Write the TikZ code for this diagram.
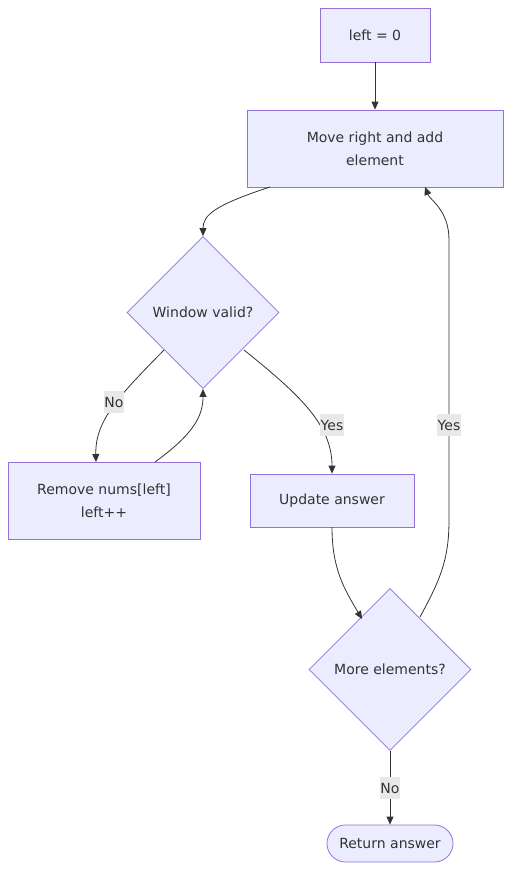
\documentclass[tikz,border=0pt]{standalone}
\usepackage{fontspec}
\setmainfont{DejaVu Sans}
\usetikzlibrary{shapes.geometric,arrows.meta}
\definecolor{nfill}{HTML}{ECECFF}
\definecolor{nline}{HTML}{9370DB}
\definecolor{eline}{HTML}{333333}
\definecolor{lbg}{HTML}{E8E8E8}
\tikzset{
  box/.style={draw=nline,fill=nfill,line width=0.8pt,text=eline,font=\fontsize{14}{23}\selectfont,align=center,inner sep=0pt},
  dia/.style={diamond,draw=nline,fill=nfill,line width=0.8pt,text=eline,font=\fontsize{14}{23}\selectfont,inner sep=0pt,aspect=1},
  flow/.style={draw=eline,line width=0.8pt,-{Triangle[length=8pt,width=7pt]}},
  lbl/.style={fill=lbg,text=eline,font=\fontsize{14}{16}\selectfont,inner xsep=0.5pt,inner ysep=0pt,minimum height=22}
}
\begin{document}
\begin{tikzpicture}[x=1pt,y=-1pt]
\useasboundingbox (0,0) rectangle (519,884);
\node[box,minimum width=110,minimum height=54] (start) at (375,35) {left = 0};
\node[box,minimum width=256,minimum height=77] (move) at (375,148.5) {Move right and add\\element};
\node[dia,minimum width=152,minimum height=152] (win) at (203,312.5) {Window valid?};
\node[box,minimum width=192,minimum height=77] (rem) at (104,500.5) {Remove nums[left]\\left++};
\node[box,minimum width=164,minimum height=53] (upd) at (332,500.5) {Update answer};
\node[dia,minimum width=162,minimum height=162] (more) at (390,669.5) {More elements?};
\node[box,rounded corners=18.5,minimum width=126,minimum height=37] (ret) at (390,843.5) {Return answer};

\coordinate (m1) at (270,187);
\coordinate (w1) at (164,350);
\coordinate (w2) at (244,350);
\coordinate (r1) at (155,462);
\coordinate (u1) at (332,527);
\coordinate (mo1) at (420,617);
\coordinate (mv1) at (425,187);

\draw[flow] (start) -- (move);
\draw[flow] (m1) .. controls (215,205) and (203,215) .. (win.north);
\draw[flow] (w1) .. controls (120,395) and (95,420) .. (96,462);
\node[lbl] (no1) at (114,402) {No};
\draw[flow] (r1) .. controls (195,433) and (203,415) .. (win.south);
\draw[flow] (w2) .. controls (300,395) and (332,425) .. (upd.north);
\node[lbl] (yes1) at (332,425) {Yes};
\draw[flow] (u1) .. controls (332,570) and (345,590) .. (362,619);
\draw[flow] (mo1) .. controls (440,580) and (449,560) .. (449,520) -- (449,240) .. controls (449,210) and (430,200) .. (mv1);
\node[lbl] (yes2) at (449,425) {Yes};
\draw[flow] (more.south) -- (ret.north);
\node[lbl] (no2) at (390,788) {No};
\end{tikzpicture}
\end{document}
